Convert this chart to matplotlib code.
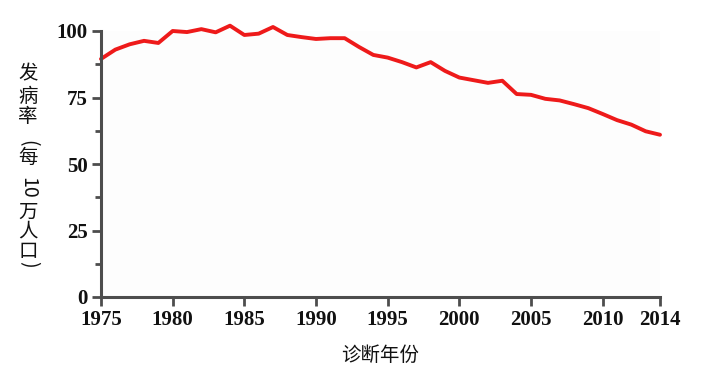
import matplotlib
matplotlib.use("Agg")
import matplotlib.pyplot as plt
from matplotlib.ticker import MultipleLocator

years = list(range(1975, 2015))
rates = [89.5, 93.0, 95.0, 96.3, 95.5, 100.0, 99.6, 100.7, 99.5, 102.0,
         98.5, 99.0, 101.5, 98.5, 97.7, 97.0, 97.3, 97.3, 94.0, 91.0,
         90.0, 88.3, 86.3, 88.3, 85.0, 82.5, 81.5, 80.5, 81.3, 76.3,
         76.0, 74.5, 73.9, 72.5, 71.0, 68.8, 66.5, 64.8, 62.3, 61.0]
xticks = [1975, 1980, 1985, 1990, 1995, 2000, 2005, 2010, 2014]
yticks = [0, 25, 50, 75, 100]
xlabel = "诊断年份"
ylabel_parts = ["发", "病", "率", "(", "每", "10", "万", "人", "口", ")"]

fig = plt.figure(figsize=(7.01, 3.77), dpi=100)
W, H = 701, 377
ax = fig.add_axes([101 / W, 1 - 297 / H, (660 - 101) / W, (297 - 31) / H])
ax.set_facecolor("#fdfdfd")

ax.plot(years, rates, color="#ee1a1a", lw=2.8, clip_on=False,
        solid_joinstyle="round", solid_capstyle="round")

ax.set_xlim(1975, 2014)
ax.set_ylim(0, 100)
ax.set_xticks(xticks)
ax.set_yticks(yticks)
ax.yaxis.set_minor_locator(MultipleLocator(12.5))

for s in ["top", "right"]:
    ax.spines[s].set_visible(False)
for s in ["left", "bottom"]:
    ax.spines[s].set_color("#4d4d4d")
    ax.spines[s].set_linewidth(2.2)

ax.tick_params(axis="both", which="major", length=6.5, width=2, color="#4d4d4d",
               labelsize=15, pad=3)
ax.tick_params(axis="y", which="minor", length=4, width=2, color="#4d4d4d")
for lab in ax.get_xticklabels() + ax.get_yticklabels():
    lab.set_fontfamily("Liberation Serif")
    lab.set_fontweight("bold")
    lab.set_color("#111111")

fig.text(380 / W, 1 - 355 / H, xlabel, ha="center", va="center", fontsize=14,
         family=["Noto Sans CJK SC", "DejaVu Sans"], weight="medium", color="#111111")

ycent = [74, 96, 117, 143, 157, 188, 212, 231, 251, 264]
for part, yc in zip(ylabel_parts, ycent):
    rot = -90 if part in ("(", ")", "10") else 0
    fig.text(28 / W, 1 - yc / H, part, ha="center", va="center", fontsize=14,
             rotation=rot, family=["Noto Sans CJK SC", "DejaVu Sans"],
             weight="medium", color="#111111")

fig.savefig("out.png", dpi=100)
